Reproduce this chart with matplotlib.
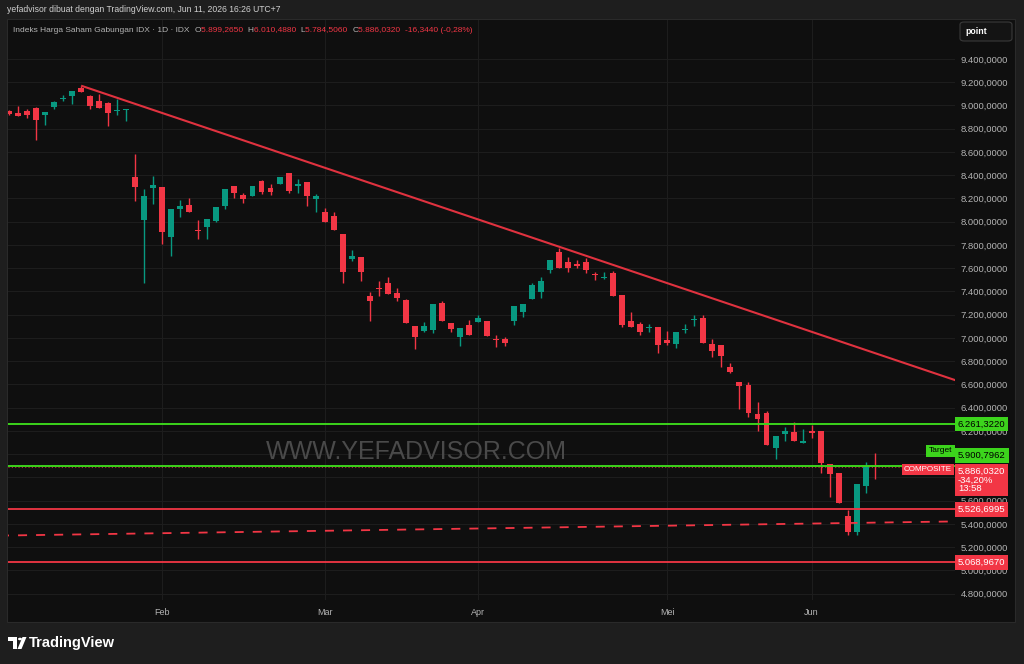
import matplotlib
matplotlib.use("Agg")
import matplotlib.pyplot as plt
from matplotlib.patches import Rectangle, FancyBboxPatch, Polygon, Circle
from matplotlib.offsetbox import TextArea, HPacker, AnchoredOffsetbox

plt.rcParams['font.family'] = ['Liberation Sans', 'DejaVu Sans']

# daily candles, IHSG
opens = [8953, 8938, 8955, 8981, 8916, 8990, 9053, 9084, 9148, 9084,
         9041, 9019, 8953, 8961, 8382, 8013, 8293, 8296, 7871, 8107,
         8142, 7932, 7957, 8009, 8135, 8310, 8230, 8224, 8348, 8290,
         8322, 8419, 8310, 8339, 8198, 8081, 8050, 7892, 7680, 7694,
         7361, 7430, 7476, 7390, 7330, 7106, 7060, 7069, 7301, 7132,
         7006, 7112, 7138, 7143, 6994, 6991, 7149, 7221, 7333, 7393,
         7583, 7742, 7651, 7634, 7654, 7548, 7516, 7557, 7370, 7146,
         7118, 7086, 7092, 6980, 6948, 7069, 7152, 7172, 6951, 6940,
         6753, 6619, 6593, 6346, 6357, 6051, 6177, 6191, 6100, 6203,
         6197, 5914, 5839, 5472, 5329, 5730, 5899.265]
highs = [8962, 8996, 8970, 8987, 8944, 9036, 9093, 9125, 9170, 9090,
         9099, 9030, 9053, 8972, 8585, 8284, 8394, 8296, 8110, 8187,
         8202, 8015, 8021, 8124, 8279, 8310, 8245, 8305, 8359, 8322,
         8385, 8419, 8365, 8345, 8239, 8121, 8086, 7892, 7757, 7700,
         7398, 7490, 7522, 7427, 7338, 7106, 7135, 7290, 7316, 7132,
         7083, 7152, 7198, 7143, 7023, 7011, 7273, 7295, 7476, 7522,
         7671, 7772, 7700, 7668, 7686, 7571, 7565, 7576, 7370, 7224,
         7135, 7120, 7092, 7060, 7049, 7118, 7198, 7198, 6992, 6940,
         6783, 6624, 6624, 6449, 6372, 6154, 6232, 6275, 6220, 6252,
         6197, 5914, 5839, 5520, 5742, 5933, 6010.488]
lows = [8919, 8905, 8895, 8703, 8832, 8973, 9036, 9013, 9116, 8972,
        8974, 8826, 8916, 8864, 8181, 7476, 8153, 7812, 7708, 8044,
        8086, 7849, 7852, 7998, 8107, 8207, 8159, 8224, 8236, 8230,
        8322, 8245, 8245, 8133, 8086, 8000, 7926, 7476, 7665, 7488,
        7149, 7364, 7376, 7318, 7127, 6908, 7049, 7046, 7149, 7054,
        6934, 7028, 7138, 7015, 6925, 6931, 7112, 7181, 7333, 7342,
        7560, 7605, 7571, 7600, 7562, 7502, 7508, 7364, 7095, 7095,
        7026, 7054, 6868, 6940, 6917, 7043, 7106, 6957, 6839, 6753,
        6696, 6387, 6318, 6203, 6080, 5957, 6117, 6117, 6100, 6140,
        5836, 5635, 5583, 5305, 5305, 5669, 5784.506]
closes = [8927, 8910, 8921, 8873, 8942, 9028, 9062, 9122, 9119, 8996,
          8979, 8933, 8964, 8970, 8302, 8222, 8319, 7909, 8110, 8133,
          8086, 7921, 8021, 8124, 8279, 8247, 8198, 8305, 8259, 8253,
          8385, 8264, 8322, 8219, 8219, 8000, 7926, 7565, 7705, 7570,
          7321, 7422, 7376, 7347, 7127, 7009, 7101, 7290, 7149, 7080,
          7083, 7028, 7175, 7015, 6980, 6960, 7273, 7295, 7453, 7488,
          7671, 7605, 7605, 7617, 7583, 7542, 7528, 7364, 7112, 7095,
          7054, 7097, 6940, 6954, 7049, 7080, 7163, 6957, 6891, 6848,
          6710, 6587, 6357, 6303, 6080, 6154, 6197, 6117, 6114, 6180,
          5925, 5830, 5583, 5329, 5742, 5899, 5886.032]

month_names = ["Feb", "Mar", "Apr", "Mei", "Jun"]
month_starts = [17, 35, 52, 73, 89]
price_ticks = list(range(4800, 9401, 200))
hidden_ticks = [5800, 6000]   # covered by the price tags in the original

trend_x = [8, 105]
trend_y = [9170, 6635]
support_x = [-1, 105]
support_y = [5300, 5422]
green_levels = [6261.3220, 5900.7962]
red_levels = [5526.6995, 5068.9670]

W, H = 1024, 664
BG = "#1e1e1e"
PANEL = "#0f0f0f"
GRID = "#1d1d1d"
UP = "#089981"
DOWN = "#f23645"
LIME = "#3cd41c"
AXTXT = "#b4b4b4"


def fx(x):
    return x / W


def fy(y):
    return 1 - y / H


def idr(v):
    return f"{v:,.4f}".replace(",", "X").replace(".", ",").replace("X", ".")


fig = plt.figure(figsize=(W / 100, H / 100), dpi=100, facecolor=BG)
fig.patches.append(Rectangle((fx(7), fy(622)), fx(1015) - fx(7), fy(19) - fy(622),
                             transform=fig.transFigure, facecolor=PANEL,
                             edgecolor="#2a2a2a", lw=0.8, zorder=-5))

ax = fig.add_axes([fx(8), fy(600), fx(955) - fx(8), fy(20) - fy(600)])
ax.set_facecolor(PANEL)
ax.set_xlim(-0.11, 104.9)
ax.set_ylim(4746, 9735)
for s in ax.spines.values():
    s.set_visible(False)

ax.yaxis.tick_right()
ax.set_yticks(price_ticks)
ax.set_yticklabels(["" if v in hidden_ticks else idr(v) for v in price_ticks])
ax.tick_params(axis="y", length=0, pad=4, labelsize=6.8, labelcolor=AXTXT)
ax.set_xticks(month_starts)
ax.set_xticklabels(month_names)
ax.tick_params(axis="x", length=0, pad=6, labelsize=6.5, labelcolor=AXTXT)
ax.grid(color=GRID, lw=0.8, zorder=0)
ax.set_axisbelow(True)

ax.text(0.431, 0.255, "WWW.YEFADVISOR.COM", transform=ax.transAxes,
        ha="center", va="center", color="#4a4a4a", fontsize=18, zorder=1)

# candles
idx = list(range(len(opens)))
colors = [UP if c >= o else DOWN for o, c in zip(opens, closes)]
bottoms = [min(o, c) for o, c in zip(opens, closes)]
heights = [max(abs(c - o), 9) for o, c in zip(opens, closes)]
ax.vlines(idx, lows, highs, colors=colors, lw=1, zorder=3)
ax.bar(idx, heights, bottom=bottoms, width=0.66, color=colors, lw=0, zorder=4)

# drawings
ax.plot(trend_x, trend_y, color="#e0323f", lw=1.5, zorder=5, solid_capstyle="butt")
ax.plot(support_x, support_y, color=DOWN, lw=1.3, ls=(0, (5, 5)), zorder=5)
for lv in green_levels:
    ax.axhline(lv, color=LIME, lw=1.4, zorder=5)
for lv in red_levels:
    ax.axhline(lv, color=DOWN, lw=1.3, zorder=5)
ax.axhline(closes[-1], color=DOWN, lw=0.8, ls=(0, (1, 2)), alpha=0.7, zorder=2)

yt = ax.get_yaxis_transform()


def tag(y, text, face, fg, dy=0, x=1.0, dx=3, ha="left", va="center", size=6.8, ls=1.2):
    ax.annotate(text, xy=(x, y), xycoords=yt, xytext=(dx, dy), textcoords="offset pixels",
                ha=ha, va=va, fontsize=size, color=fg, annotation_clip=False, zorder=10,
                linespacing=ls, bbox=dict(boxstyle="square,pad=0.3", fc=face, ec="none"))


tag(green_levels[0], idr(green_levels[0]), LIME, "black")
tag(green_levels[1], idr(green_levels[1]), LIME, "black", dy=10)
tag(green_levels[1], "Target", LIME, "black", dy=15, dx=-3, ha="right", size=6.0)
tag(closes[-1], "COMPOSITE", DOWN, "white", dy=-2, dx=-3, ha="right", size=5.8)
tag(closes[-1], idr(closes[-1]) + "\n-34,20%\n13:58", DOWN, "white", dy=1, va="top", ls=1.0)
for lv in red_levels:
    tag(lv, idr(lv), DOWN, "white")

# header legend
parts = [("Indeks Harga Saham Gabungan IDX · 1D · IDX  ", AXTXT),
         ("O", AXTXT), (idr(opens[-1]) + "  ", DOWN),
         ("H", AXTXT), (idr(highs[-1]) + "  ", DOWN),
         ("L", AXTXT), (idr(lows[-1]) + "  ", DOWN),
         ("C", AXTXT), (idr(closes[-1]) + "  ", DOWN),
         ("-16,3440 (-0,28%)", DOWN)]
areas = [TextArea(t, textprops=dict(color=c, fontsize=6.05)) for t, c in parts]
legend_box = AnchoredOffsetbox(loc="center left", child=HPacker(children=areas, pad=0, sep=0),
                               pad=0, borderpad=0, frameon=False,
                               bbox_to_anchor=(fx(13), fy(30)), bbox_transform=fig.transFigure)
ax.add_artist(legend_box)

fig.text(fx(7), fy(10), "yefadvisor dibuat dengan TradingView.com, Jun 11, 2026 16:26 UTC+7",
         color="#d0d0d0", fontsize=6.2, va="center")

# "point" button
fig.patches.append(FancyBboxPatch((fx(960), fy(41)), fx(1012) - fx(960), fy(22) - fy(41),
                                  boxstyle="round,pad=0,rounding_size=0.004",
                                  transform=fig.transFigure, fc="#141414", ec="#3a3a3a", lw=0.8))
fig.text(fx(965), fy(31.5), "point", color="white", fontsize=6.3, fontweight="bold", va="center")

# logo
fig.patches.append(Polygon([(fx(8), fy(637)), (fx(17), fy(637)), (fx(17), fy(649)),
                            (fx(12.5), fy(649)), (fx(12.5), fy(641)), (fx(8), fy(641))],
                           closed=True, transform=fig.transFigure, fc="white", ec="none"))
fig.patches.append(Circle((fx(20), fy(639)), 2 / W, transform=fig.transFigure, fc="white", ec="none"))
fig.patches.append(Polygon([(fx(22.5), fy(637)), (fx(26.5), fy(637)), (fx(21.5), fy(649)),
                            (fx(17.5), fy(649))],
                           closed=True, transform=fig.transFigure, fc="white", ec="none"))
fig.text(fx(29), fy(643), "TradingView", color="white", fontsize=10.5, fontweight="bold", va="center")

fig.savefig("out.png", dpi=100, facecolor=BG)
